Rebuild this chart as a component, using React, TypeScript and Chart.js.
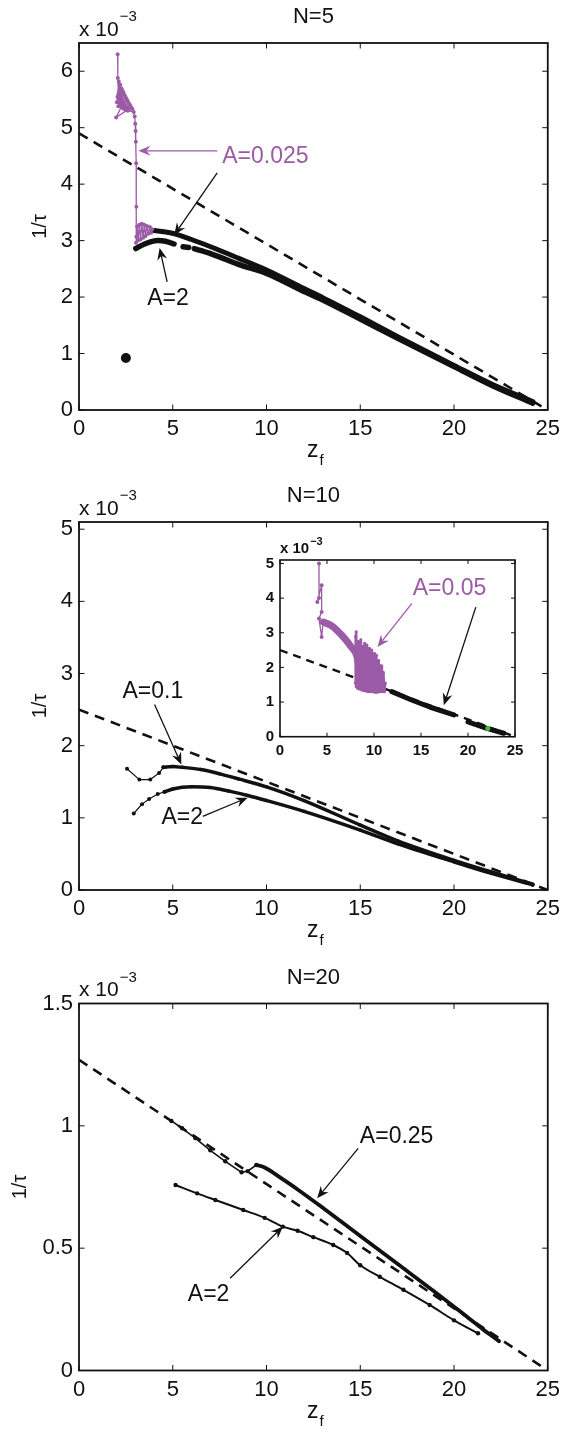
import React, { useEffect, useRef } from "react";
import { Chart, registerables } from "chart.js";
Chart.register(...registerables);

type Pt = [number, number | null];

// ================= DATA (values in units of 1e-3 for 1/tau) =================
// ---- N = 5 ----
const N5_THEORY: Pt[] = [[0, 4.9], [25, 0]];
const N5_A0025_PURPLE: Pt[] = [
  [2.06, 6.3], [2.07, 5.88], [2.1, 5.6], [2.02, 5.45], [2.12, 5.82], [2.15, 5.5], [2.2, 5.76],
  [2.05, 5.55], [2.26, 5.7], [2.1, 5.38], [2.32, 5.66], [2.15, 5.45], [2.38, 5.62], [2.2, 5.4],
  [2.45, 5.57], [2.25, 5.38], [2.52, 5.52], [2.3, 5.36], [2.58, 5.48], [2.36, 5.34], [2.65, 5.44],
  [2.42, 5.33], [2.72, 5.4], [2.5, 5.32], [2.78, 5.36], [1.98, 5.18], [2.3, 5.4], [2.85, 5.33],
  [2.6, 5.3], [2.92, 5.28], [2.97, 5.2], [3.0, 5.07], [3.02, 4.94], [3.03, 4.75], [3.05, 4.37],
  [3.06, 3.6], [3.06, 3.07], [3.04, 2.96], [3.1, 3.25], [3.15, 3.0], [3.22, 3.28], [3.28, 3.02],
  [3.35, 3.3], [3.42, 3.05], [3.48, 3.28], [3.55, 3.08], [3.62, 3.26], [3.7, 3.12], [3.78, 3.24],
  [3.85, 3.14], [3.9, 3.2],
];
const N5_A0025_BLACK: Pt[] = [
  [3.98, 3.18], [4.98, 3.13], [6.0, 3.02], [7.26, 2.86], [8.5, 2.69], [10, 2.48], [12, 2.15],
  [13, 1.99], [15, 1.65], [17, 1.3], [20, 0.79], [22, 0.46], [24.2, 0.15],
];
const N5_A2: Pt[] = [
  [3.03, 2.86], [3.5, 2.94], [4.2, 3.0], [4.6, 2.99], [5.07, 2.94], [5.3, null], [5.55, 2.89],
  [5.85, 2.88], [6.0, null], [6.15, 2.86], [7.26, 2.74], [8.5, 2.58], [10, 2.42], [12, 2.1],
  [13, 1.95], [15, 1.61], [17, 1.27], [20, 0.77], [22, 0.44], [24.2, 0.12],
];
const N5_OUTLIER: Pt[] = [[2.5, 0.92]];

// ---- N = 10 ----
const N10_THEORY: Pt[] = [[0, 2.5], [25, 0]];
const N10_A01_START: Pt[] = [[2.56, 1.68], [3.22, 1.53], [3.8, 1.53], [4.27, 1.62], [4.5, 1.7]];
const N10_A01_BAND: Pt[] = [
  [4.5, 1.7], [5.0, 1.71], [5.5, 1.7], [6.5, 1.67], [7.5, 1.61], [8.5, 1.54], [10, 1.43],
  [12, 1.24], [15, 0.9], [17, 0.68], [20, 0.41], [22, 0.25], [24.2, 0.08],
];
const N10_A2_START: Pt[] = [[2.92, 1.06], [3.36, 1.19], [3.74, 1.26], [4.2, 1.33], [4.56, 1.36]];
const N10_A2_BAND: Pt[] = [
  [4.56, 1.36], [5, 1.4], [6, 1.43], [7, 1.42], [8, 1.37], [9, 1.31], [10, 1.24], [12, 1.09],
  [15, 0.83], [17, 0.64], [20, 0.39], [22, 0.23], [24.2, 0.07],
];

// ---- N = 10 inset (A = 0.05) ----
const INSET_THEORY: Pt[] = [[0, 2.5], [25, 0]];
const INSET_PURPLE_START: Pt[] = [
  [4.15, 5.0], [4.15, 4.0], [3.97, 3.89], [4.43, 4.37], [4.43, 3.6], [4.15, 3.41], [4.43, 2.88], [4.6, 3.31],
];
const INSET_PURPLE_RIBBON: Pt[] = [[4.6, 3.31], [5.5, 3.2], [6.5, 2.95], [7.5, 2.62], [8.2, 2.3], [8.4, 2.0]];
const INSET_PURPLE_BURST: Pt[] = [
  [8.0, 1.55], [8.05, 2.9], [8.1, 1.45], [8.1, 3.03], [8.25, 1.4], [8.35, 2.75], [8.45, 1.38],
  [8.6, 2.8], [8.7, 1.35], [8.8, 2.6], [8.9, 1.33], [9.0, 2.7], [9.1, 1.32], [9.25, 2.65],
  [9.35, 1.3], [9.5, 2.55], [9.6, 1.3], [9.75, 2.5], [9.85, 1.3], [10.0, 2.4], [10.1, 1.28],
  [10.25, 2.35], [10.35, 1.28], [10.5, 2.2], [10.6, 1.3], [10.75, 2.05], [10.85, 1.3],
  [11.0, 1.85], [11.1, 1.3], [11.2, 1.55],
];
const INSET_BLACK: Pt[] = [
  [11.9, 1.3], [14, 1.06], [16, 0.85], [18.5, 0.63], [19.2, null], [20, 0.43], [22, 0.24], [23.8, 0.1],
];
const INSET_GREEN: Pt[] = [[22.1, 0.24]];

// ---- N = 20 ----
const N20_THEORY: Pt[] = [[0, 1.27], [25, 0]];
const N20_A025_START: Pt[] = [
  [4.93, 1.02], [5.5, 0.99], [6.2, 0.95], [7.0, 0.9], [7.8, 0.855], [8.67, 0.81], [9.0, 0.815], [9.46, 0.84],
];
const N20_A025_BAND: Pt[] = [
  [9.46, 0.84], [9.9, 0.83], [10.8, 0.785], [11.66, 0.74], [13, 0.665], [15, 0.55], [17, 0.435],
  [19, 0.32], [20.8, 0.213], [21.6, 0.165], [22.4, 0.12],
];
const N20_A2: Pt[] = [
  [5.15, 0.758], [6.3, 0.724], [7.27, 0.697], [8.76, 0.656], [9.9, 0.624], [10.87, 0.588],
  [11.66, 0.571], [12.5, 0.545], [13.56, 0.513], [14.3, 0.48], [15, 0.43], [16.04, 0.383],
  [17.3, 0.33], [18.7, 0.268], [20, 0.205], [21.28, 0.152],
];

// axis ranges / ticks
const X_MIN = 0, X_MAX = 25, X_STEP = 5;
const N5_YMAX = 6.5, N10_YMAX = 5.1, N20_YMAX = 1.5;
const INSET_YMAX = 5.1;

// ================= STYLE =================
const FONT = '"Liberation Sans", Arial, Helvetica, sans-serif';
const PURPLE = "#9c5ba6";
const BLACK = "#111111";
const GREEN = "#39c23a";

type Arrow = { from: [number, number]; to: [number, number]; color: string };
type Label = { at: [number, number]; text: string; color: string };

interface DecorSpec {
  title?: string;
  titleSize: number;
  expSize: number;
  expSupSize: number;
  expBold: boolean;
  expDy: number;
  expSupDy: number;
  yLabelX?: number;
  xLabel: boolean;
  tickLen: number;
  boxWidth: number;
  fillArea: boolean;
  arrows: Arrow[];
  labels: Label[];
  labelSize: number;
}

function drawArrow(ctx: CanvasRenderingContext2D, x1: number, y1: number, x2: number, y2: number, color: string) {
  const ang = Math.atan2(y2 - y1, x2 - x1);
  const ux = Math.cos(ang), uy = Math.sin(ang);
  const px = -uy, py = ux;
  const L = 12, W = 5, back = 8;
  ctx.strokeStyle = color;
  ctx.lineWidth = 1.3;
  ctx.beginPath();
  ctx.moveTo(x1, y1);
  ctx.lineTo(x2 - ux * back, y2 - uy * back);
  ctx.stroke();
  ctx.fillStyle = color;
  ctx.beginPath();
  ctx.moveTo(x2, y2);
  ctx.lineTo(x2 - ux * L + px * W, y2 - uy * L + py * W);
  ctx.lineTo(x2 - ux * back, y2 - uy * back);
  ctx.lineTo(x2 - ux * L - px * W, y2 - uy * L - py * W);
  ctx.closePath();
  ctx.fill();
}

function makeDecor(spec: DecorSpec) {
  return {
    id: "decor",
    beforeDatasetsDraw(chart: any) {
      if (!spec.fillArea) return;
      const { ctx, chartArea: a } = chart;
      ctx.save();
      ctx.fillStyle = "#ffffff";
      ctx.fillRect(a.left, a.top, a.right - a.left, a.bottom - a.top);
      ctx.restore();
    },
    afterDraw(chart: any) {
      const { ctx, chartArea: a, scales } = chart;
      const xs = scales.x, ys = scales.y;
      ctx.save();
      // inward ticks on all four sides
      ctx.strokeStyle = BLACK;
      ctx.lineWidth = 1;
      ctx.beginPath();
      xs.ticks.forEach((t: any) => {
        const p = xs.getPixelForValue(t.value);
        ctx.moveTo(p, a.bottom);
        ctx.lineTo(p, a.bottom - spec.tickLen);
        ctx.moveTo(p, a.top);
        ctx.lineTo(p, a.top + spec.tickLen);
      });
      ys.ticks.forEach((t: any) => {
        const p = ys.getPixelForValue(t.value);
        ctx.moveTo(a.left, p);
        ctx.lineTo(a.left + spec.tickLen, p);
        ctx.moveTo(a.right, p);
        ctx.lineTo(a.right - spec.tickLen, p);
      });
      ctx.stroke();
      // box
      ctx.lineWidth = spec.boxWidth;
      ctx.strokeRect(a.left, a.top, a.right - a.left, a.bottom - a.top);

      ctx.fillStyle = BLACK;
      // title
      if (spec.title) {
        ctx.font = `${spec.titleSize}px ${FONT}`;
        ctx.textAlign = "center";
        ctx.textBaseline = "middle";
        ctx.fillText(spec.title, (a.left + a.right) / 2, a.top - 26);
      }
      // exponent label  x 10^-3
      const w = spec.expBold ? "bold " : "";
      ctx.textAlign = "left";
      ctx.textBaseline = "alphabetic";
      ctx.font = `${w}${spec.expSize}px ${FONT}`;
      const base = "x 10";
      ctx.fillText(base, a.left, a.top - spec.expDy);
      const bw = ctx.measureText(base).width;
      ctx.font = `${w}${spec.expSupSize}px ${FONT}`;
      ctx.fillText("\u22123", a.left + bw + 1, a.top - spec.expSupDy);

      // y label
      if (spec.yLabelX !== undefined) {
        ctx.save();
        ctx.translate(spec.yLabelX, (a.top + a.bottom) / 2);
        ctx.rotate(-Math.PI / 2);
        ctx.font = `20px ${FONT}`;
        ctx.textAlign = "center";
        ctx.textBaseline = "middle";
        ctx.fillText("1/\u03c4", 0, 0);
        ctx.restore();
      }
      // x label z_f
      if (spec.xLabel) {
        ctx.font = `23px ${FONT}`;
        const zw = ctx.measureText("z").width;
        ctx.font = `15px ${FONT}`;
        const fw = ctx.measureText("f").width;
        const cx = (a.left + a.right) / 2 + 2;
        const x0 = cx - (zw + fw + 1) / 2;
        const bl = a.bottom + 47;
        ctx.font = `23px ${FONT}`;
        ctx.textAlign = "left";
        ctx.fillText("z", x0, bl);
        ctx.font = `15px ${FONT}`;
        ctx.fillText("f", x0 + zw + 1, bl + 8);
      }
      // annotations
      spec.arrows.forEach((ar) => {
        drawArrow(
          ctx,
          xs.getPixelForValue(ar.from[0]), ys.getPixelForValue(ar.from[1]),
          xs.getPixelForValue(ar.to[0]), ys.getPixelForValue(ar.to[1]),
          ar.color
        );
      });
      ctx.font = `${spec.labelSize}px ${FONT}`;
      ctx.textAlign = "center";
      ctx.textBaseline = "middle";
      spec.labels.forEach((lb) => {
        ctx.fillStyle = lb.color;
        ctx.fillText(lb.text, xs.getPixelForValue(lb.at[0]), ys.getPixelForValue(lb.at[1]));
      });
      ctx.restore();
    },
  };
}

const toXY = (a: Pt[]) => a.map(([x, y]) => ({ x, y }));

function series(data: Pt[], color: string, width: number, pointR: number, extra: any = {}) {
  return {
    data: toXY(data),
    showLine: true,
    borderColor: color,
    backgroundColor: color,
    pointBackgroundColor: color,
    pointBorderWidth: 0,
    borderWidth: width,
    pointRadius: pointR,
    pointHoverRadius: pointR,
    tension: 0,
    spanGaps: false,
    borderJoinStyle: "round",
    borderCapStyle: "round",
    ...extra,
  };
}
const smooth = { cubicInterpolationMode: "monotone" };

function theory(data: Pt[], width: number, dash: number[]) {
  return series(data, BLACK, width, 0, { borderDash: dash, borderCapStyle: "butt" });
}

interface PanelSpec {
  width: number;
  height: number;
  padding: { top: number; right: number; bottom: number; left: number };
  yAxisW: number;
  xAxisH: number;
  yMax: number;
  yStep: number;
  tickFont: { size: number; weight?: string };
  yTickPad: number;
  xTickPad: number;
  datasets: any[];
  decor: DecorSpec;
}

const fmtTick = (v: any) => String(Math.round(Number(v) * 100) / 100);

function buildConfig(p: PanelSpec): any {
  const tickFont = { family: FONT, size: p.tickFont.size, weight: p.tickFont.weight || "normal" };
  return {
    type: "scatter",
    data: { datasets: p.datasets },
    options: {
      responsive: false,
      animation: false,
      devicePixelRatio: 1,
      events: [],
      layout: { padding: p.padding },
      plugins: { legend: { display: false }, tooltip: { enabled: false }, title: { display: false } },
      scales: {
        x: {
          type: "linear",
          min: X_MIN,
          max: X_MAX,
          afterFit: (s: any) => { s.height = p.xAxisH; },
          grid: { display: false, drawTicks: false },
          border: { display: false },
          ticks: { stepSize: X_STEP, includeBounds: false, font: tickFont, color: BLACK, padding: p.xTickPad, maxRotation: 0, autoSkip: false, callback: fmtTick },
        },
        y: {
          type: "linear",
          min: 0,
          max: p.yMax,
          afterFit: (s: any) => { s.width = p.yAxisW; },
          grid: { display: false, drawTicks: false },
          border: { display: false },
          ticks: { stepSize: p.yStep, includeBounds: false, font: tickFont, color: BLACK, padding: p.yTickPad, autoSkip: false, callback: fmtTick },
        },
      },
    },
    plugins: [makeDecor(p.decor)],
  };
}

function ChartCanvas({ left, top, spec }: { left: number; top: number; spec: PanelSpec }) {
  const ref = useRef<HTMLCanvasElement>(null);
  useEffect(() => {
    const chart = new Chart(ref.current as HTMLCanvasElement, buildConfig(spec));
    return () => chart.destroy();
  }, []);
  return (
    <canvas
      ref={ref}
      width={spec.width}
      height={spec.height}
      style={{ position: "absolute", left, top, width: spec.width, height: spec.height }}
    />
  );
}

const mainDecor = (title: string, yLabelX: number, arrows: Arrow[], labels: Label[]): DecorSpec => ({
  title,
  titleSize: 22,
  expSize: 21,
  expSupSize: 15,
  expBold: false,
  expDy: 7.5,
  expSupDy: 22,
  yLabelX,
  xLabel: true,
  tickLen: 5.5,
  boxWidth: 1.8,
  fillArea: false,
  arrows,
  labels,
  labelSize: 23,
});

const PANEL_W = 566, PANEL_H = 478;
const mainSpec = (top: number, bottom: number, yMax: number, yStep: number, datasets: any[], decor: DecorSpec): PanelSpec => ({
  width: PANEL_W,
  height: PANEL_H,
  padding: { top, right: 13.3, left: 0, bottom: PANEL_H - bottom - 35 },
  yAxisW: 79,
  xAxisH: 35,
  yMax,
  yStep,
  tickFont: { size: 22 },
  yTickPad: 6,
  xTickPad: 6,
  datasets,
  decor,
});

const SPEC_N5 = mainSpec(
  43, 410, N5_YMAX, 1,
  [
    series(N5_A0025_PURPLE, PURPLE, 1.3, 2),
    series(N5_A0025_BLACK, BLACK, 5, 1.5, smooth),
    series(N5_A2, BLACK, 5.5, 1.5, smooth),
    series(N5_OUTLIER, BLACK, 1, 5),
    theory(N5_THEORY, 2.6, [10, 7]),
  ],
  mainDecor("N=5", 40,
    [
      { from: [7.37, 4.59], to: [3.17, 4.59], color: PURPLE },
      { from: [7.37, 4.2], to: [5.08, 3.1], color: BLACK },
      { from: [4.7, 2.27], to: [4.3, 2.87], color: BLACK },
    ],
    [
      { at: [9.94, 4.48], text: "A=0.025", color: PURPLE },
      { at: [4.75, 1.97], text: "A=2", color: BLACK },
    ])
);

const SPEC_N10 = mainSpec(
  44, 412, N10_YMAX, 1,
  [
    series(N10_A01_START, BLACK, 1.2, 2),
    series(N10_A01_BAND, BLACK, 3.5, 1.8, smooth),
    series(N10_A2_START, BLACK, 1.2, 2),
    series(N10_A2_BAND, BLACK, 3.5, 1.8, smooth),
    theory(N10_THEORY, 2.6, [10, 7]),
  ],
  mainDecor("N=10", 40,
    [
      { from: [4.03, 2.57], to: [5.46, 1.74], color: BLACK },
      { from: [6.6, 1.02], to: [8.99, 1.28], color: BLACK },
    ],
    [
      { at: [3.94, 2.75], text: "A=0.1", color: BLACK },
      { at: [5.51, 1.0], text: "A=2", color: BLACK },
    ])
);

const SPEC_INSET: PanelSpec = {
  width: 300,
  height: 240,
  padding: { top: 30, right: 15, left: 0, bottom: 8.3 },
  yAxisW: 50,
  xAxisH: 25,
  yMax: INSET_YMAX,
  yStep: 1,
  tickFont: { size: 15, weight: "bold" },
  yTickPad: 6,
  xTickPad: 5,
  datasets: [
    series(INSET_GREEN, GREEN, 1, 2.5),
    series(INSET_PURPLE_START, PURPLE, 1.3, 2),
    series(INSET_PURPLE_RIBBON, PURPLE, 7, 0, smooth),
    series(INSET_PURPLE_BURST, PURPLE, 2.5, 1.5),
    series(INSET_BLACK, BLACK, 5, 0),
    theory(INSET_THEORY, 2.4, [8, 6]),
  ],
  decor: {
    titleSize: 0,
    expSize: 15,
    expSupSize: 11,
    expBold: true,
    expDy: 6.6,
    expSupDy: 15,
    xLabel: false,
    tickLen: 4,
    boxWidth: 1.6,
    fillArea: true,
    arrows: [
      { from: [14.01, 3.84], to: [10.37, 2.59], color: PURPLE },
      { from: [20.83, 3.74], to: [17.43, 0.91], color: BLACK },
    ],
    labels: [{ at: [18.03, 4.26], text: "A=0.05", color: PURPLE }],
    labelSize: 23,
  },
};

const SPEC_N20 = mainSpec(
  47.5, 414.5, N20_YMAX, 0.5,
  [
    series(N20_A025_START, BLACK, 1.6, 2.2),
    series(N20_A025_BAND, BLACK, 3.8, 1.5, smooth),
    series(N20_A2, BLACK, 2, 2.2, smooth),
    theory(N20_THEORY, 2.6, [10, 7]),
  ],
  mainDecor("N=20", 20,
    [
      { from: [14.89, 0.908], to: [12.7, 0.704], color: BLACK },
      { from: [8.06, 0.377], to: [10.87, 0.588], color: BLACK },
    ],
    [
      { at: [16.94, 0.955], text: "A=0.25", color: BLACK },
      { at: [6.91, 0.309], text: "A=2", color: BLACK },
    ])
);

export default function App() {
  return (
    <div style={{ position: "absolute", left: 0, top: 0, width: 566, height: 1434, background: "#fff", overflow: "hidden" }}>
      <ChartCanvas left={0} top={0} spec={SPEC_N5} />
      <ChartCanvas left={0} top={478} spec={SPEC_N10} />
      <ChartCanvas left={230} top={530} spec={SPEC_INSET} />
      <ChartCanvas left={0} top={956} spec={SPEC_N20} />
    </div>
  );
}
